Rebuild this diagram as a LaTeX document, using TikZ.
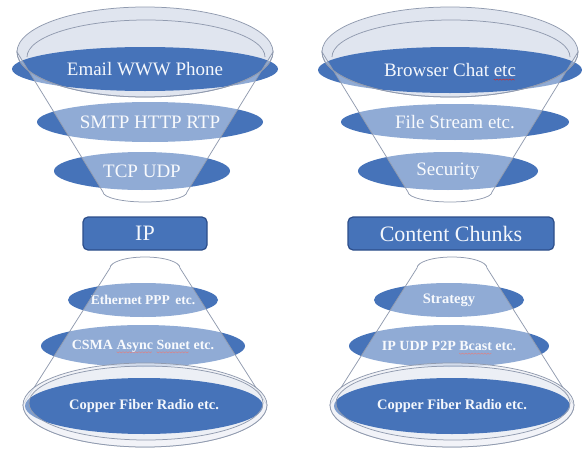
\documentclass[tikz,border=0pt]{standalone}
\usepackage{fontspec}
\setmainfont{Liberation Serif}
\usetikzlibrary{shapes.geometric}

\definecolor{layerblue}{RGB}{70,115,185}
\definecolor{boxedge}{RGB}{45,78,138}
\definecolor{rimgray}{RGB}{145,155,175}
\definecolor{rimfill}{RGB}{224,229,239}
\definecolor{squig}{RGB}{205,45,45}

% red wavy underline for flagged words
\newcommand\spellmark[1]{%
  \setbox0=\hbox{#1}%
  \pgfmathtruncatemacro\nwave{\the\wd0/1.6}%
  \rlap{\tikz[overlay, baseline=0pt, x=1pt, y=1pt]{%
    \draw[squig, line width=0.45pt] (0,-2.6)
      \foreach \k in {1,...,\nwave} { -- ({\k*1.6},{-2.6-mod(\k,2)*1.1}) };}}%
  \box0\relax}

\tikzset{
  layer/.style={ellipse, fill=layerblue, inner sep=0pt, text={rgb,255:red,244;green,247;blue,252}},
  toplabel/.style={layer, font=\fontsize{19}{19}\selectfont},
  baselabel/.style={layer, font=\bfseries\fontsize{14.5}{14.5}\selectfont},
  wall/.style={fill=white, fill opacity=0.4, draw=rimgray, line width=0.75pt},
  rim/.style={draw=rimgray, line width=0.75pt},
  titlebox/.style={rectangle, rounded corners=5pt, fill=layerblue, draw=boxedge,
    line width=1.2pt, inner sep=0pt, text={rgb,255:red,244;green,247;blue,252},
    font=\fontsize{22}{22}\selectfont}
}

% upper funnel: opening interior, translucent front wall and rim
\newcommand\funnelback[1]{%
  \fill[rimfill] (#1,52) ellipse[x radius=128, y radius=45];}
\newcommand\funnelfront[1]{%
  \path[wall] ({#1-128},52) -- ({#1-42},192)
    arc[start angle=180, end angle=0, x radius=42, y radius=10]
    -- ({#1+128},52)
    arc[start angle=0, end angle=180, x radius=128, y radius=45] -- cycle;
  \draw[rim] (#1,52) ellipse[x radius=128, y radius=45];
  \draw[rim] ({#1-118},57) arc[start angle=180, end angle=360, x radius=119, y radius=37];}

% lower cone: translucent wall and base
\newcommand\conewall[1]{%
  \path[wall] ({#1-35},268)
    arc[start angle=180, end angle=360, x radius=35, y radius=11]
    -- ({#1+122},405)
    arc[start angle=0, end angle=180, x radius=122, y radius=42] -- cycle;
  \fill[rimfill, fill opacity=0.6] (#1,405) ellipse[x radius=122, y radius=42];}
\newcommand\conebase[1]{%
  \path[fill=white, fill opacity=0.3, even odd rule]
    (#1,405) ellipse[x radius=122, y radius=42]
    ({#1+1},403) ellipse[x radius=117, y radius=37];
  \draw[rim] (#1,405) ellipse[x radius=122, y radius=42];
  \draw[rim] ({#1+1},403) ellipse[x radius=117, y radius=37];}

\begin{document}
\begin{tikzpicture}[x=1pt, y=-1pt]
\useasboundingbox (0,0) rectangle (582,450);

\funnelback{145}
\funnelback{450}

\node[toplabel, minimum width=266, minimum height=44] (email) at (145,69) {Email WWW Phone};
\node[toplabel, minimum width=226, minimum height=40] (smtp) at (150,122) {SMTP HTTP RTP};
\node[toplabel, minimum width=176, minimum height=38] (tcp) at (142,171) {TCP UDP};

\node[toplabel, minimum width=264, minimum height=46] (browser) at (450,70) {Browser Chat \spellmark{etc}};
\node[toplabel, minimum width=228, minimum height=36] (file) at (455,122) {File Stream etc.};
\node[toplabel, minimum width=180, minimum height=38] (security) at (448,171) {Security};

\funnelfront{145}
\funnelfront{450}

\node[titlebox, minimum width=124, minimum height=33] (ip) at (145,233.5) {IP};
\node[titlebox, minimum width=206, minimum height=33] (chunks) at (451,233.5) {Content Chunks};

\node[baselabel, minimum width=150, minimum height=34, font=\bfseries\fontsize{13.5}{13.5}\selectfont] (ether) at (143,300) {Ethernet PPP\hspace{0.4em}etc.};
\node[baselabel, minimum width=204, minimum height=42, font=\bfseries\fontsize{14}{14}\selectfont] (csma) at (143,346) {CSMA \spellmark{Async} \spellmark{Sonet} etc.};
\node[baselabel, minimum width=150, minimum height=34] (strategy) at (449,300) {Strategy};
\node[baselabel, minimum width=200, minimum height=42, font=\bfseries\fontsize{14}{14}\selectfont] (ipudp) at (449,346) {IP UDP P2P \spellmark{Bcast} etc.};

\conewall{145}
\conewall{452}

\node[baselabel, minimum width=238, minimum height=56] (copperL) at (144,406) {Copper Fiber Radio etc.};
\node[baselabel, minimum width=236, minimum height=56] (copperR) at (452,406) {Copper Fiber Radio etc.};

\conebase{145}
\conebase{452}
\end{tikzpicture}
\end{document}
